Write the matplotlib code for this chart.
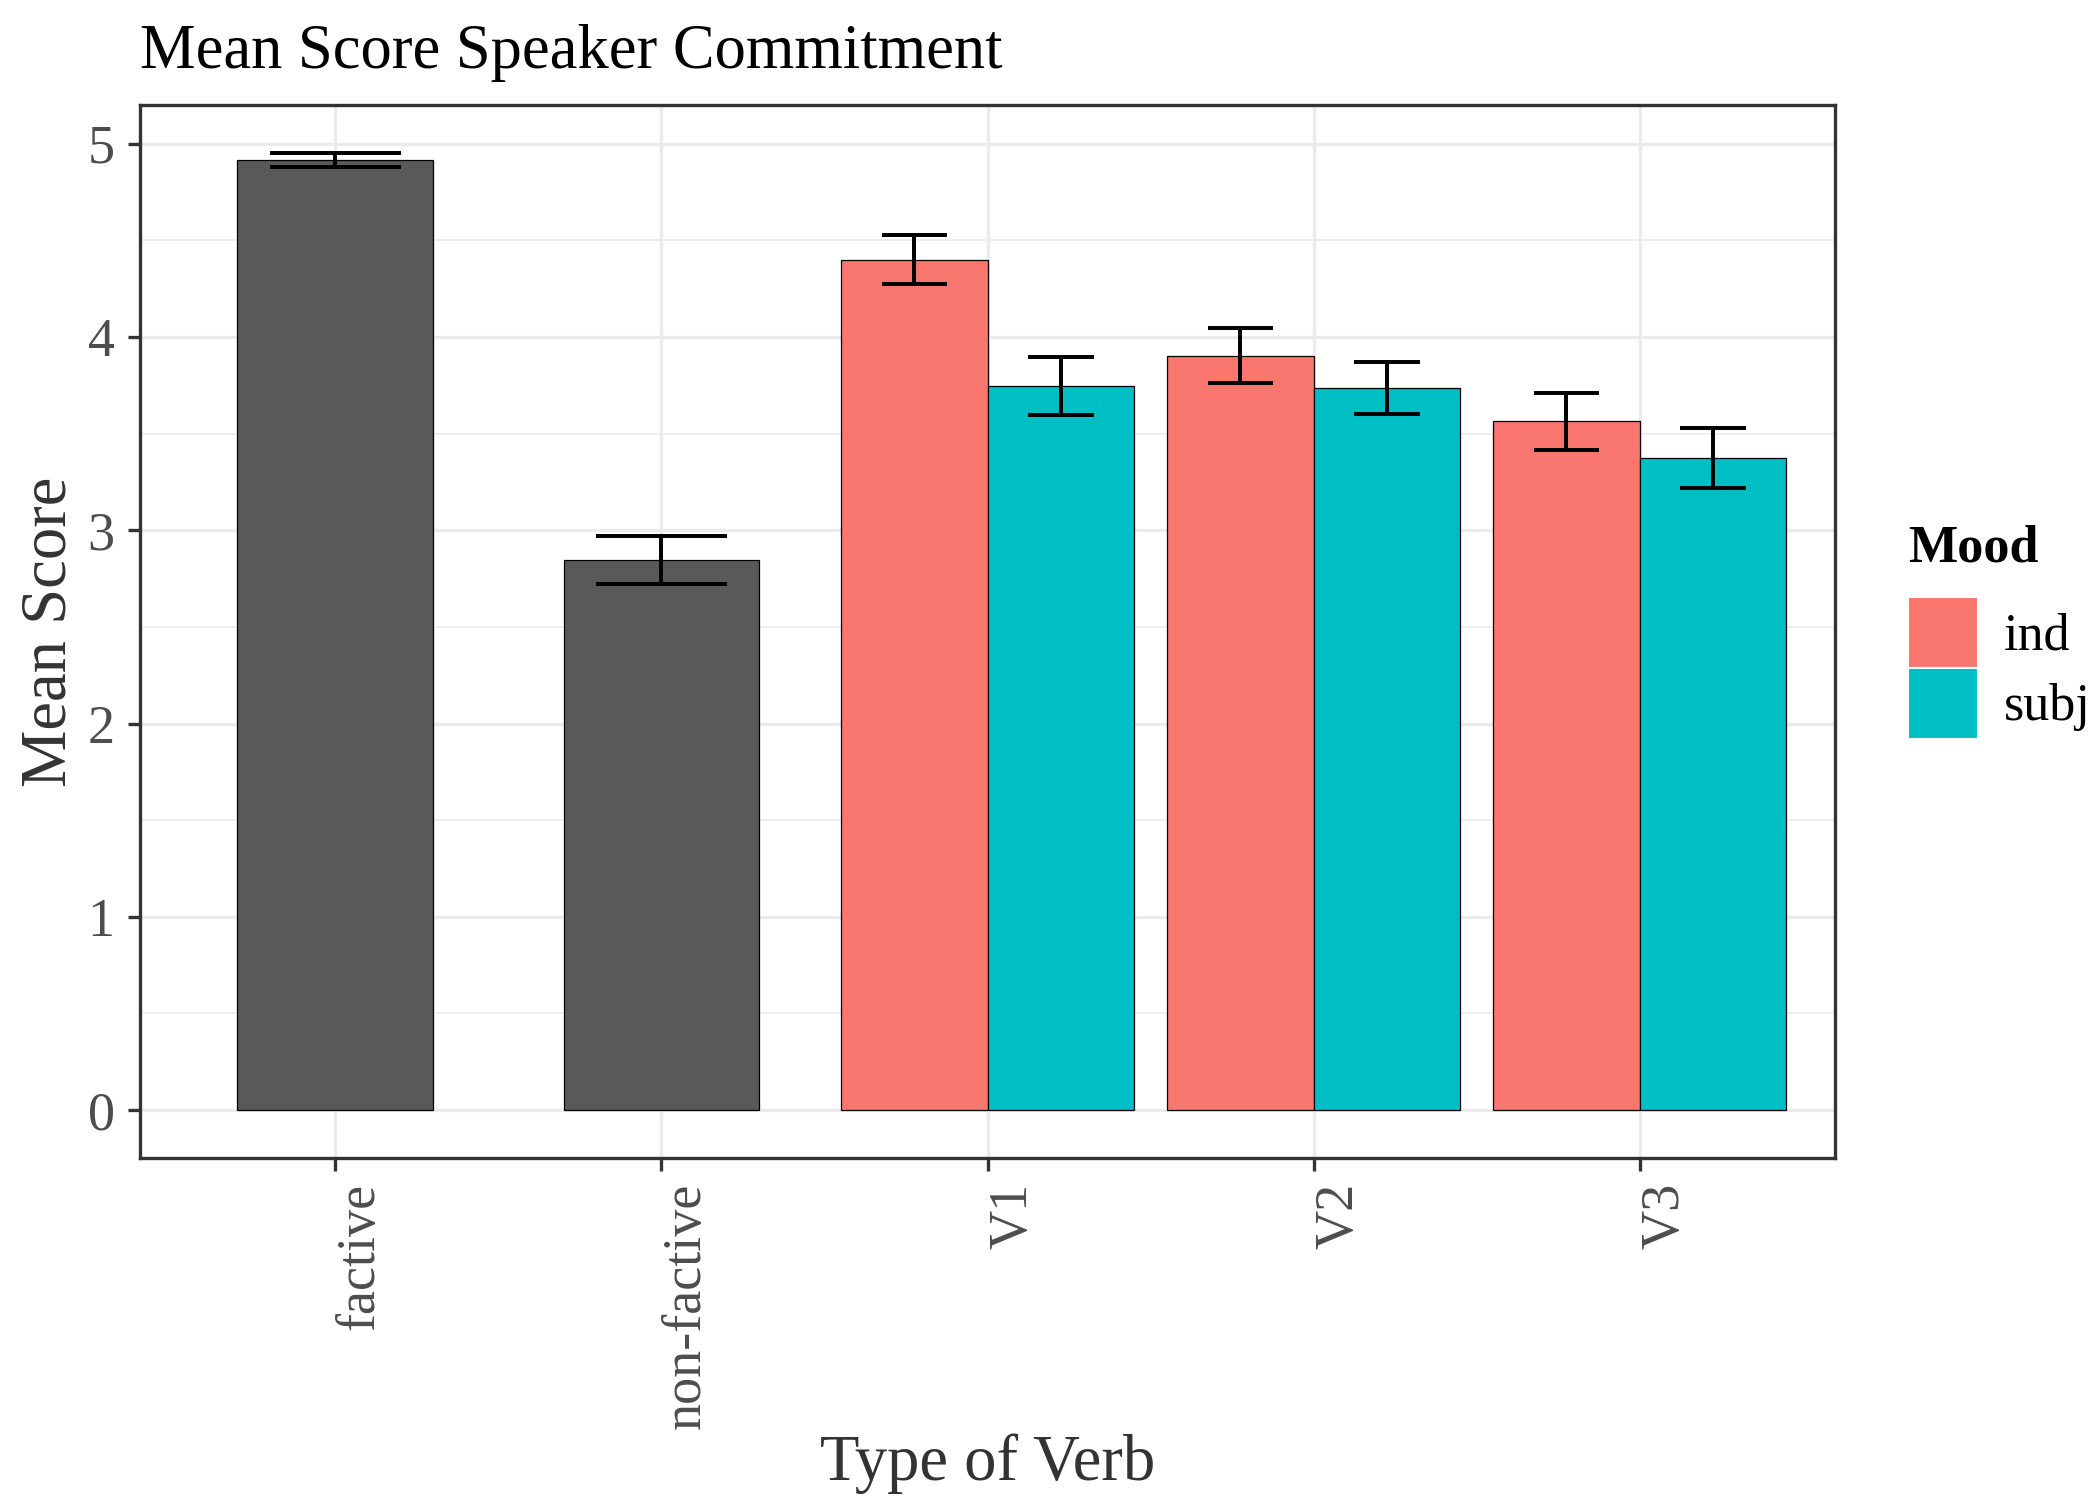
import matplotlib.pyplot as plt
import numpy as np
from matplotlib.patches import Patch

# data
cats = ['factive', 'non-factive', 'V1', 'V2', 'V3']
single_means = [4.915, 2.845]
single_se = [0.037, 0.123]
ind_means = [4.40, 3.903, 3.563]
ind_se = [0.127, 0.141, 0.147]
subj_means = [3.746, 3.735, 3.372]
subj_se = [0.149, 0.136, 0.155]
moods = ['ind', 'subj']

plt.rcParams['font.family'] = ['Liberation Serif', 'DejaVu Serif']

fig = plt.figure(figsize=(7, 5), dpi=300)
ax = fig.add_axes([0.0665, 0.228, 0.8075, 0.702])

x = np.arange(len(cats))
xs = x[:2]
xg = x[2:]
w1 = 0.6
w2 = 0.45

ax.bar(xs, single_means, w1, color='#595959', edgecolor='black', linewidth=0.3, zorder=2)
ax.bar(xg - w2 / 2, ind_means, w2, color='#F8766D', edgecolor='black', linewidth=0.3, zorder=2)
ax.bar(xg + w2 / 2, subj_means, w2, color='#00BFC4', edgecolor='black', linewidth=0.3, zorder=2)


def errbars(xpos, m, se, cap):
    m = np.array(m)
    se = np.array(se)
    ax.vlines(xpos, m - se, m + se, color='black', linewidth=0.95, zorder=3)
    ax.hlines(m - se, xpos - cap, xpos + cap, color='black', linewidth=0.95, zorder=3)
    ax.hlines(m + se, xpos - cap, xpos + cap, color='black', linewidth=0.95, zorder=3)


errbars(xs, single_means, single_se, 0.2)
errbars(xg - w2 / 2, ind_means, ind_se, 0.1)
errbars(xg + w2 / 2, subj_means, subj_se, 0.1)

ax.set_xlim(-0.6, len(cats) - 0.4)
ax.set_ylim(-0.248, 5.2)
ax.set_yticks([0, 1, 2, 3, 4, 5])
ax.set_yticks([0.5, 1.5, 2.5, 3.5, 4.5], minor=True)
ax.set_xticks(x)
ax.set_xticklabels(cats, rotation=90, ha='left', va='top')

ax.grid(True, which='major', color='#EBEBEB', linewidth=0.8, zorder=0)
ax.grid(True, which='minor', axis='y', color='#EBEBEB', linewidth=0.4, zorder=0)
ax.set_axisbelow(True)
for s in ax.spines.values():
    s.set_color('#333333')
    s.set_linewidth(0.8)
ax.tick_params(which='major', length=3, width=0.8, color='#333333',
               labelsize=13, labelcolor='#4D4D4D', pad=3)
ax.tick_params(which='minor', length=0)

ax.set_xlabel('Type of Verb', fontsize=15.5, color='#333333', labelpad=1)
ax.set_ylabel('Mean Score', fontsize=15.5, color='#333333', labelpad=2)
ax.set_title('Mean Score Speaker Commitment', fontsize=15, loc='left', pad=9)

handles = [Patch(facecolor='#F8766D', edgecolor='white', linewidth=0.5),
           Patch(facecolor='#00BFC4', edgecolor='white', linewidth=0.5)]
leg = ax.legend(handles, moods, title='Mood', loc='center left',
                bbox_to_anchor=(0.9086, 0.579), bbox_transform=fig.transFigure,
                frameon=False, fontsize=12.5, title_fontsize=12.5,
                handlelength=1.34, handleheight=1.72, borderpad=0,
                borderaxespad=0, labelspacing=0.0, handletextpad=0.5,
                alignment='left')
leg.get_title().set_fontweight('bold')
leg._legend_box.sep = 6

plt.savefig('out.png', dpi=300)
